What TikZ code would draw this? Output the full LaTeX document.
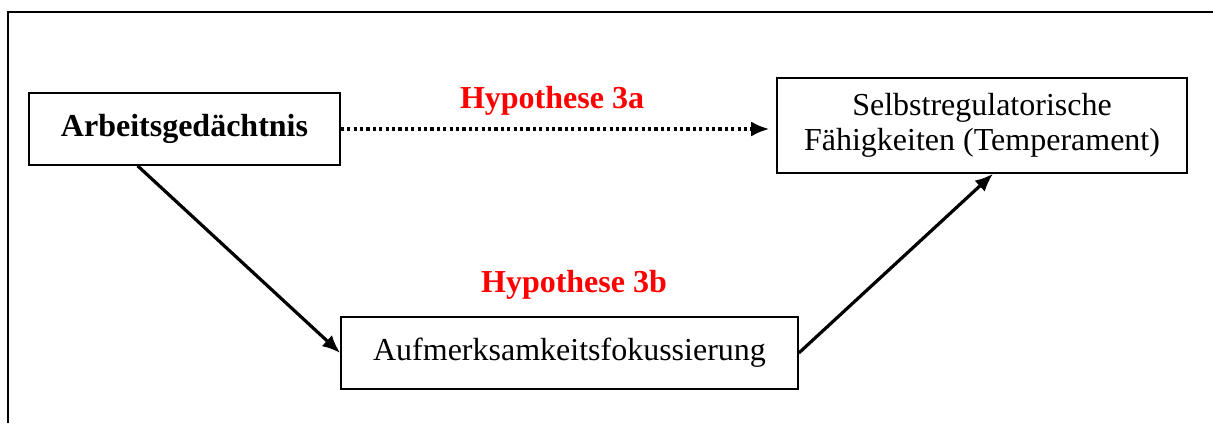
\documentclass[tikz,border=0pt]{standalone}
\usepackage{fontspec}
\setmainfont{Liberation Serif}
\usetikzlibrary{calc, arrows.meta}

\newcommand{\diagfont}{\fontsize{16}{17.5}\selectfont}

\tikzset{
    box/.style = {draw, line width = 0.8pt, inner sep = 0pt, align = center},
    hyp/.style = {text = red, font = \diagfont\bfseries},
    link/.style = {-{Latex[length = 9pt, width = 7.5pt]}, line width = 1.6pt}
}

\begin{document}
\begin{tikzpicture}[x = 0.5pt, y = -0.5pt, font = \diagfont]

        \useasboundingbox (0, 0) rectangle (1213, 423);
        \draw [line width = 1pt] (1213, 12) -- (8, 12) -- (8, 423);

        \node (arbeit) at (184.5, 129) [box, minimum width = 155.5pt, minimum height = 36pt] {\bfseries Arbeitsgedächtnis};
        \node (selbst) at (982, 125.5) [box, minimum width = 205pt, minimum height = 47.5pt] {Selbstregulatorische\\Fähigkeiten (Temperament)};
        \node (fokus) at (569.5, 353) [box, minimum width = 228.5pt, minimum height = 36pt] {Aufmerksamkeitsfokussierung};

        \node (h3a) at (552, 101) [hyp] {Hypothese 3a};
        \node (h3b) at (574, 285) [hyp] {Hypothese 3b};

        \draw [link, dash pattern = on 1.6pt off 1.6pt, shorten >= 3.5pt] (arbeit.east) -- (arbeit.east -| selbst.west);
        \draw [link] ($(arbeit.south west)!0.35!(arbeit.south east)$) -- (fokus.west);
        \draw [link] (fokus.east) -- ($(selbst.south)+(11, 0)$);

    \end{tikzpicture}
\end{document}
